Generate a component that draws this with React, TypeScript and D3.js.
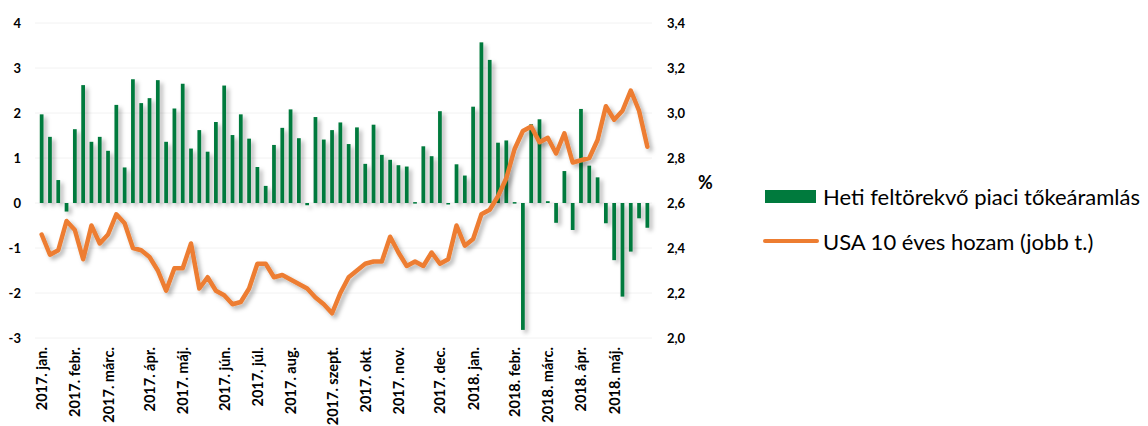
import { useEffect, useRef } from "react"
import * as d3 from "d3"

// heti feltörekvő piaci tőkeáramlás (bal tengely)
const flows = [
  1.97, 1.47, 0.51, -0.19, 1.64, 2.62, 1.36, 1.47, 1.16, 2.18, 0.79, 2.75, 2.22, 2.33, 2.73, 1.36, 2.1, 2.65, 1.21,
  1.62, 1.14, 1.8, 2.61, 1.51, 1.97, 1.43, 0.8, 0.38, 1.29, 1.67, 2.08, 1.44, -0.05, 1.91, 1.41, 1.62, 1.79, 1.31,
  1.68, 0.87, 1.74, 1.07, 0.96, 0.84, 0.81, 0.02, 1.26, 1.04, 2.04, -0.03, 0.86, 0.61, 2.14, 3.57, 3.18, 1.34, 1.39,
  0.02, -2.82, 1.75, 1.86, 0.04, -0.44, 0.71, -0.6, 2.09, 0.83, 0.57, -0.45, -1.27, -2.08, -1.08, -0.34, -0.55,
]

// USA 10 éves hozam (jobb tengely)
const yields = [
  2.46, 2.37, 2.39, 2.52, 2.48, 2.35, 2.5, 2.42, 2.46, 2.55, 2.51, 2.4, 2.39, 2.36, 2.3, 2.21, 2.31, 2.31, 2.42, 2.22,
  2.27, 2.21, 2.19, 2.15, 2.16, 2.22, 2.33, 2.33, 2.27, 2.28, 2.26, 2.24, 2.22, 2.18, 2.15, 2.11, 2.2, 2.27, 2.3, 2.33,
  2.34, 2.34, 2.45, 2.38, 2.32, 2.34, 2.32, 2.38, 2.33, 2.35, 2.5, 2.41, 2.44, 2.55, 2.57, 2.63, 2.71, 2.84, 2.92,
  2.94, 2.87, 2.89, 2.82, 2.91, 2.78, 2.79, 2.8, 2.88, 3.03, 2.97, 3.01, 3.1, 3.01, 2.85,
]

const monthNames = ["jan.", "febr.", "márc.", "ápr.", "máj.", "jún.", "júl.", "aug.", "szept.", "okt.", "nov.", "dec."]
const leftTicks = [-3, -2, -1, 0, 1, 2, 3, 4]
const rightTicks = [2.0, 2.2, 2.4, 2.6, 2.8, 3.0, 3.2, 3.4]
const legendLabels = ["Heti feltörekvő piaci tőkeáramlás", "USA 10 éves hozam (jobb t.)"]

const GREEN = "#007A3D"
const ORANGE = "#ED7D31"
const FONT = "Lato, 'Liberation Sans', sans-serif"

export default function App() {
  const svgRef = useRef<SVGSVGElement>(null)
  const width = 1148
  const height = 426

  useEffect(() => {
    const svg = d3.select(svgRef.current)
    svg.selectAll("*").remove()

    // weekly dates (wednesdays)
    const weeks = d3.timeWednesday.range(new Date(2017, 0, 4), new Date(2018, 4, 31))

    const x = d3
      .scaleBand<number>()
      .domain(weeks.map((_, i) => i))
      .range([37.5, 651.5])
      .paddingInner(0.55)
      .paddingOuter(0.275)

    const yL = d3.scaleLinear().domain([-3, 4]).range([338, 23])
    const yR = d3.scaleLinear().domain([2.0, 3.4]).range([338, 23])

    // shadow filter
    const defs = svg.append("defs")
    const f = defs.append("filter").attr("id", "shadow").attr("x", "-50%").attr("y", "-50%").attr("width", "200%").attr("height", "200%")
    f.append("feGaussianBlur").attr("in", "SourceAlpha").attr("stdDeviation", 2).attr("result", "blur")
    f.append("feOffset").attr("in", "blur").attr("dx", 2.5).attr("dy", 3).attr("result", "off")
    f.append("feFlood").attr("flood-color", "#000").attr("flood-opacity", 0.3)
    f.append("feComposite").attr("in2", "off").attr("operator", "in").attr("result", "sh")
    const merge = f.append("feMerge")
    merge.append("feMergeNode").attr("in", "sh")
    merge.append("feMergeNode").attr("in", "SourceGraphic")

    // gridlines
    svg
      .append("g")
      .selectAll("line")
      .data(leftTicks)
      .enter()
      .append("line")
      .attr("x1", 35)
      .attr("x2", 652)
      .attr("y1", (d) => yL(d))
      .attr("y2", (d) => yL(d))
      .attr("stroke", "#f2f2f2")
      .attr("stroke-width", 1)

    // bars
    svg
      .append("g")
      .attr("filter", "url(#shadow)")
      .selectAll("rect")
      .data(flows)
      .enter()
      .append("rect")
      .attr("x", (_, i) => x(i)!)
      .attr("width", x.bandwidth())
      .attr("y", (d) => yL(Math.max(0, d)))
      .attr("height", (d) => Math.max(1.5, Math.abs(yL(d) - yL(0))))
      .attr("fill", GREEN)

    // line
    const line = d3
      .line<number>()
      .x((_, i) => x(i)! + x.bandwidth() / 2)
      .y((d) => yR(d))

    svg
      .append("path")
      .datum(yields)
      .attr("d", line)
      .attr("fill", "none")
      .attr("stroke", ORANGE)
      .attr("stroke-width", 4.5)
      .attr("stroke-linejoin", "round")
      .attr("stroke-linecap", "round")
      .attr("filter", "url(#shadow)")

    // left axis
    svg
      .append("g")
      .selectAll("text")
      .data(leftTicks)
      .enter()
      .append("text")
      .attr("x", 21)
      .attr("y", (d) => yL(d))
      .attr("dy", "0.35em")
      .attr("text-anchor", "end")
      .attr("font-family", FONT)
      .attr("font-weight", "bold")
      .attr("font-size", 13)
      .attr("fill", "#000")
      .text((d) => d)

    // right axis
    svg
      .append("g")
      .selectAll("text")
      .data(rightTicks)
      .enter()
      .append("text")
      .attr("x", 667)
      .attr("y", (d) => yR(d))
      .attr("dy", "0.35em")
      .attr("font-family", FONT)
      .attr("font-weight", "bold")
      .attr("font-size", 13)
      .attr("fill", "#000")
      .text((d) => d.toFixed(1).replace(".", ","))

    svg
      .append("text")
      .attr("x", 698)
      .attr("y", 189)
      .attr("font-family", FONT)
      .attr("font-weight", "bold")
      .attr("font-size", 18)
      .text("%")

    // month labels at first week of each month
    const monthStarts = weeks
      .map((d, i) => ({ d, i }))
      .filter(({ d, i }) => i === 0 || d.getMonth() !== weeks[i - 1].getMonth())

    svg
      .append("g")
      .selectAll("text")
      .data(monthStarts)
      .enter()
      .append("text")
      .attr("transform", ({ i }) => `translate(${x(i)! + x.bandwidth() / 2 + 5.5},347) rotate(-90)`)
      .attr("text-anchor", "end")
      .attr("font-family", FONT)
      .attr("font-weight", "bold")
      .attr("font-size", 14.5)
      .attr("fill", "#000")
      .text(({ d }) => `${d.getFullYear()}. ${monthNames[d.getMonth()]}`)

    // legend
    const lg = svg.append("g")
    lg.append("rect").attr("x", 765).attr("y", 190).attr("width", 51).attr("height", 13).attr("fill", GREEN)
    lg.append("line")
      .attr("x1", 765)
      .attr("x2", 817)
      .attr("y1", 241)
      .attr("y2", 241)
      .attr("stroke", ORANGE)
      .attr("stroke-width", 4)
      .attr("stroke-linecap", "round")
    lg.selectAll("text.lbl")
      .data(legendLabels)
      .enter()
      .append("text")
      .attr("class", "lbl")
      .attr("x", 823)
      .attr("y", (_, i) => 205 + i * 45)
      .attr("font-family", FONT)
      .attr("font-size", 22)
      .attr("fill", "#000")
      .text((d) => d)
  }, [])

  return (
    <svg
      ref={svgRef}
      width={width}
      height={height}
      style={{ position: "absolute", left: 0, top: 0, background: "#fff", display: "block" }}
    />
  )
}
